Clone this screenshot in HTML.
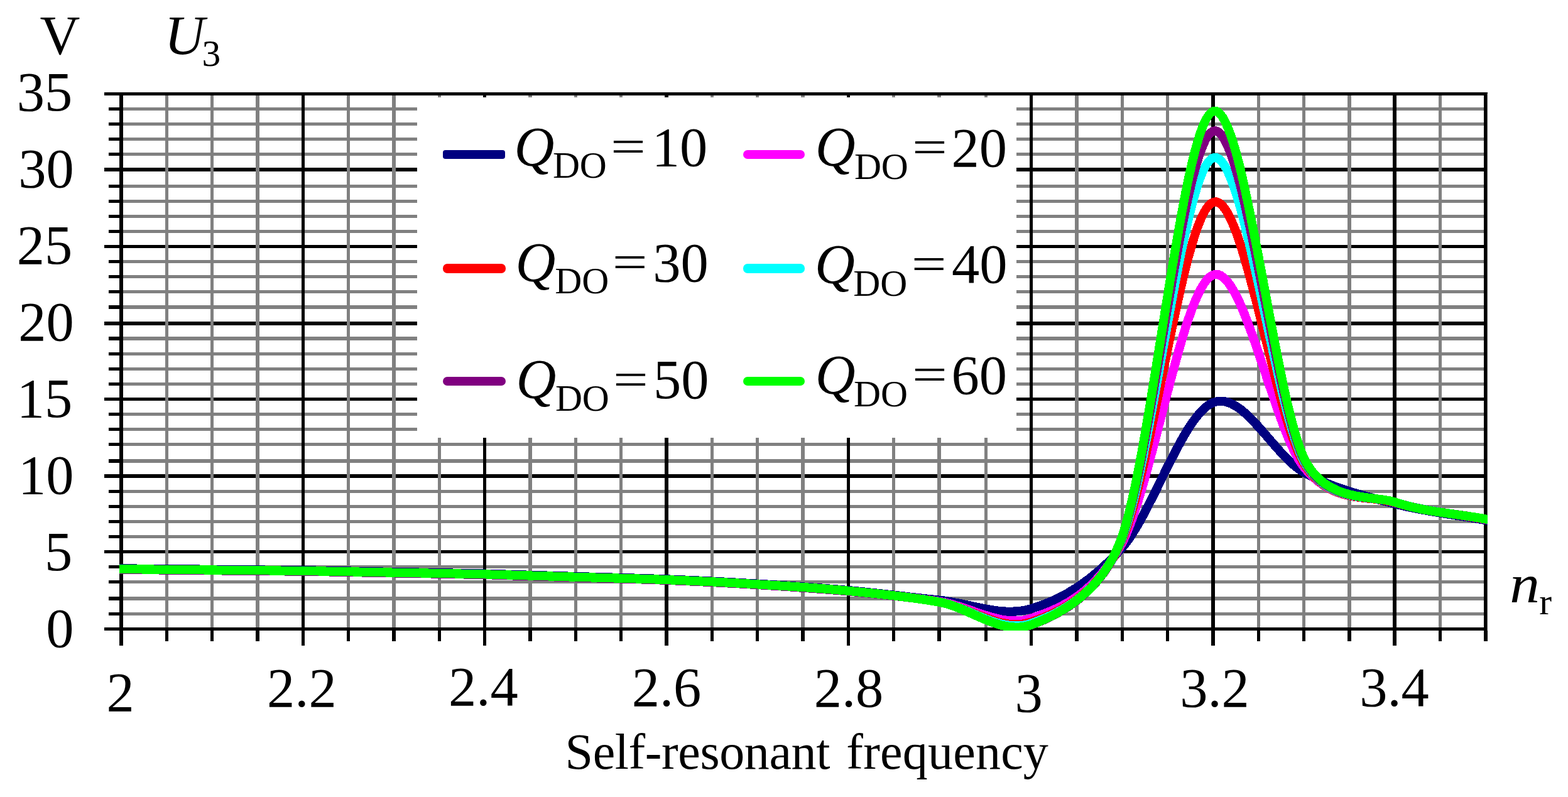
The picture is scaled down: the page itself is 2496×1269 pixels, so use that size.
<!DOCTYPE html>
<html lang="en">
<head>
<meta charset="utf-8">
<title>Self-resonant frequency chart</title>
<style>
html,body{margin:0;padding:0;background:#fff;overflow:hidden;}
body{width:2496px;height:1269px;overflow:hidden;}
svg{display:block;}
text{white-space:pre;}
</style>
</head>
<body>
<svg width="2496" height="1269" viewBox="0 0 2496 1269">
<defs><clipPath id="pc"><rect x="190" y="147" width="2178" height="857"/></clipPath></defs>
<rect width="2496" height="1269" fill="#fff"/>
<g id="grid-and-axes" shape-rendering="crispEdges">
<g fill="#808080">
<rect x="196" y="975" width="2166" height="5"/>
<rect x="196" y="950" width="2166" height="6"/>
<rect x="196" y="924" width="2166" height="5"/>
<rect x="196" y="900" width="2166" height="5"/>
<rect x="196" y="852" width="2166" height="5"/>
<rect x="196" y="828" width="2166" height="5"/>
<rect x="196" y="804" width="2166" height="5"/>
<rect x="196" y="780" width="2166" height="5"/>
<rect x="196" y="731" width="2166" height="6"/>
<rect x="196" y="705" width="2166" height="5"/>
<rect x="196" y="681" width="2166" height="5"/>
<rect x="196" y="657" width="2166" height="5"/>
<rect x="196" y="609" width="2166" height="5"/>
<rect x="196" y="585" width="2166" height="5"/>
<rect x="196" y="561" width="2166" height="5"/>
<rect x="196" y="536" width="2166" height="6"/>
<rect x="196" y="486" width="2166" height="6"/>
<rect x="196" y="462" width="2166" height="5"/>
<rect x="196" y="438" width="2166" height="5"/>
<rect x="196" y="414" width="2166" height="5"/>
<rect x="196" y="366" width="2166" height="5"/>
<rect x="196" y="342" width="2166" height="5"/>
<rect x="196" y="318" width="2166" height="5"/>
<rect x="196" y="294" width="2166" height="5"/>
<rect x="196" y="243" width="2166" height="5"/>
<rect x="196" y="219" width="2166" height="5"/>
<rect x="196" y="195" width="2166" height="5"/>
<rect x="196" y="171" width="2166" height="5"/>
</g><g fill="#000">
<rect x="196" y="876" width="2166" height="5"/>
<rect x="196" y="755" width="2166" height="6"/>
<rect x="196" y="633" width="2166" height="5"/>
<rect x="196" y="512" width="2166" height="6"/>
<rect x="196" y="390" width="2166" height="5"/>
<rect x="196" y="267" width="2166" height="6"/>
</g><g fill="#808080">
<rect x="263" y="152" width="5" height="847"/>
<rect x="335" y="152" width="5" height="847"/>
<rect x="407" y="152" width="6" height="847"/>
<rect x="552" y="152" width="5" height="847"/>
<rect x="624" y="152" width="6" height="847"/>
<rect x="697" y="152" width="5" height="847"/>
<rect x="841" y="152" width="6" height="847"/>
<rect x="914" y="152" width="5" height="847"/>
<rect x="986" y="152" width="5" height="847"/>
<rect x="1131" y="152" width="5" height="847"/>
<rect x="1203" y="152" width="5" height="847"/>
<rect x="1275" y="152" width="6" height="847"/>
<rect x="1420" y="152" width="5" height="847"/>
<rect x="1492" y="152" width="6" height="847"/>
<rect x="1567" y="152" width="5" height="847"/>
<rect x="1711" y="152" width="6" height="847"/>
<rect x="1784" y="152" width="5" height="847"/>
<rect x="1856" y="152" width="5" height="847"/>
<rect x="2001" y="152" width="5" height="847"/>
<rect x="2073" y="152" width="5" height="847"/>
<rect x="2145" y="152" width="6" height="847"/>
<rect x="2290" y="152" width="5" height="847"/>
</g><g fill="#000">
<rect x="480" y="152" width="5" height="847"/>
<rect x="769" y="152" width="5" height="847"/>
<rect x="1058" y="152" width="6" height="847"/>
<rect x="1348" y="152" width="5" height="847"/>
<rect x="1639" y="152" width="5" height="847"/>
<rect x="1928" y="152" width="6" height="847"/>
<rect x="2217" y="152" width="6" height="847"/>
</g>
<rect x="664" y="155" width="954" height="542" fill="#fff"/>
<g fill="#000">
<rect x="166" y="147" width="2202" height="5"/>
<rect x="166" y="999" width="2202" height="5"/>
<rect x="190" y="147" width="6" height="881"/>
<rect x="2362" y="147" width="5" height="857"/>
<rect x="2367" y="149" width="1" height="855" fill="#555"/>
<rect x="2362" y="1004" width="6" height="17"/>
<rect x="173" y="975" width="17" height="5"/>
<rect x="173" y="950" width="17" height="6"/>
<rect x="173" y="924" width="17" height="5"/>
<rect x="173" y="900" width="17" height="5"/>
<rect x="166" y="876" width="24" height="5"/>
<rect x="173" y="852" width="17" height="5"/>
<rect x="173" y="828" width="17" height="5"/>
<rect x="173" y="804" width="17" height="5"/>
<rect x="173" y="780" width="17" height="5"/>
<rect x="166" y="755" width="24" height="6"/>
<rect x="173" y="731" width="17" height="6"/>
<rect x="173" y="705" width="17" height="5"/>
<rect x="173" y="681" width="17" height="5"/>
<rect x="173" y="657" width="17" height="5"/>
<rect x="166" y="633" width="24" height="5"/>
<rect x="173" y="609" width="17" height="5"/>
<rect x="173" y="585" width="17" height="5"/>
<rect x="173" y="561" width="17" height="5"/>
<rect x="173" y="536" width="17" height="6"/>
<rect x="166" y="512" width="24" height="6"/>
<rect x="173" y="486" width="17" height="6"/>
<rect x="173" y="462" width="17" height="5"/>
<rect x="173" y="438" width="17" height="5"/>
<rect x="173" y="414" width="17" height="5"/>
<rect x="166" y="390" width="24" height="5"/>
<rect x="173" y="366" width="17" height="5"/>
<rect x="173" y="342" width="17" height="5"/>
<rect x="173" y="318" width="17" height="5"/>
<rect x="173" y="294" width="17" height="5"/>
<rect x="166" y="267" width="24" height="6"/>
<rect x="173" y="243" width="17" height="5"/>
<rect x="173" y="219" width="17" height="5"/>
<rect x="173" y="195" width="17" height="5"/>
<rect x="173" y="171" width="17" height="5"/>
<rect x="263" y="1004" width="5" height="17"/>
<rect x="335" y="1004" width="5" height="17"/>
<rect x="407" y="1004" width="6" height="17"/>
<rect x="480" y="1004" width="5" height="24"/>
<rect x="552" y="1004" width="5" height="17"/>
<rect x="624" y="1004" width="6" height="17"/>
<rect x="697" y="1004" width="5" height="17"/>
<rect x="769" y="1004" width="5" height="24"/>
<rect x="841" y="1004" width="6" height="17"/>
<rect x="914" y="1004" width="5" height="17"/>
<rect x="986" y="1004" width="5" height="17"/>
<rect x="1058" y="1004" width="6" height="24"/>
<rect x="1131" y="1004" width="5" height="17"/>
<rect x="1203" y="1004" width="5" height="17"/>
<rect x="1275" y="1004" width="6" height="17"/>
<rect x="1348" y="1004" width="5" height="24"/>
<rect x="1420" y="1004" width="5" height="17"/>
<rect x="1492" y="1004" width="6" height="17"/>
<rect x="1567" y="1004" width="5" height="17"/>
<rect x="1639" y="1004" width="5" height="24"/>
<rect x="1711" y="1004" width="6" height="17"/>
<rect x="1784" y="1004" width="5" height="17"/>
<rect x="1856" y="1004" width="5" height="17"/>
<rect x="1928" y="1004" width="6" height="24"/>
<rect x="2001" y="1004" width="5" height="17"/>
<rect x="2073" y="1004" width="5" height="17"/>
<rect x="2145" y="1004" width="6" height="17"/>
<rect x="2217" y="1004" width="6" height="24"/>
<rect x="2290" y="1004" width="5" height="17"/>
</g>
</g>
<g id="curves" clip-path="url(#pc)" fill="none" stroke-width="14.2" stroke-linejoin="round" stroke-linecap="butt" shape-rendering="crispEdges">
<path d="M173.00,905.28 L193.00,905.35C241.27,905.83 289.53,906.32 337.80,906.81C386.07,907.29 434.33,907.58 482.60,908.27C530.87,908.96 579.13,910.05 627.40,910.94C675.67,911.84 723.93,912.45 772.20,913.62C820.47,914.80 868.73,916.54 917.00,918.00C965.27,919.46 1013.53,920.44 1061.80,922.39C1110.07,924.33 1158.33,926.73 1206.60,929.69C1254.87,932.65 1303.13,935.81 1351.40,940.16C1399.67,944.50 1447.93,950.87 1496.20,955.74C1544.47,960.60 1592.73,983.24 1641.00,969.37C1689.27,955.49 1737.53,927.17 1785.80,872.48C1834.07,817.79 1882.33,661.31 1930.60,641.22C1978.87,621.14 2027.13,725.17 2075.40,751.98C2123.67,778.80 2171.93,789.43 2220.20,802.13C2268.47,814.83 2316.73,819.50 2365.00,828.18L2385.00,831.78" stroke="#000080"/>
<path d="M173.00,906.01 L193.00,906.08C241.27,906.56 289.53,907.05 337.80,907.54C386.07,908.02 434.33,908.31 482.60,909.00C530.87,909.69 579.13,910.78 627.40,911.67C675.67,912.57 723.93,913.18 772.20,914.35C820.47,915.53 868.73,917.27 917.00,918.73C965.27,920.19 1013.53,921.17 1061.80,923.12C1110.07,925.06 1158.33,927.46 1206.60,930.42C1254.87,933.38 1303.13,936.30 1351.40,940.89C1399.67,945.47 1447.93,950.62 1496.20,957.93C1544.47,965.23 1592.73,1000.16 1641.00,984.70C1684.94,970.63 1741.86,948.14 1785.80,865.18C1834.07,774.06 1882.33,458.25 1930.60,437.96C1978.87,417.67 2027.13,683.09 2075.40,743.46C2123.67,803.83 2171.93,786.27 2220.20,800.18C2268.47,814.10 2316.73,818.03 2365.00,826.96L2385.00,830.66" stroke="#ff00ff"/>
<path d="M173.00,906.50 L193.00,906.56C241.27,907.05 289.53,907.54 337.80,908.02C386.07,908.51 434.33,908.79 482.60,909.48C530.87,910.17 579.13,911.27 627.40,912.16C675.67,913.05 723.93,913.66 772.20,914.84C820.47,916.02 868.73,917.76 917.00,919.22C965.27,920.68 1013.53,921.65 1061.80,923.60C1110.07,925.55 1158.33,927.94 1206.60,930.91C1254.87,933.87 1303.13,936.79 1351.40,941.37C1399.67,945.96 1447.93,950.22 1496.20,958.41C1544.47,966.61 1592.73,1006.69 1641.00,990.55C1679.56,977.65 1747.24,950.50 1785.80,861.53C1834.07,750.16 1882.33,343.02 1930.60,322.33C1978.87,301.64 2027.13,657.78 2075.40,737.38C2116.29,804.82 2179.31,787.33 2220.20,799.94C2268.47,814.83 2316.73,817.79 2365.00,826.72L2385.00,830.42" stroke="#ff0000"/>
<path d="M173.00,906.01 L193.00,906.08C241.27,906.56 289.53,907.05 337.80,907.54C386.07,908.02 434.33,908.31 482.60,909.00C530.87,909.69 579.13,910.78 627.40,911.67C675.67,912.57 723.93,913.18 772.20,914.35C820.47,915.53 868.73,917.27 917.00,918.73C965.27,920.19 1013.53,921.17 1061.80,923.12C1110.07,925.06 1158.33,927.46 1206.60,930.42C1254.87,933.38 1303.13,936.18 1351.40,940.89C1399.67,945.59 1447.93,950.01 1496.20,958.66C1544.47,967.30 1592.73,1009.33 1641.00,992.74C1676.86,980.41 1749.94,950.86 1785.80,859.09C1834.07,735.59 1882.33,272.63 1930.60,251.74C1978.87,230.84 2027.13,642.44 2075.40,733.73C2112.56,804.02 2183.04,787.55 2220.20,799.45C2268.47,814.91 2316.73,817.47 2365.00,826.47L2385.00,830.21" stroke="#00ffff"/>
<path d="M173.00,906.74 L193.00,906.81C241.27,907.29 289.53,907.78 337.80,908.27C386.07,908.75 434.33,909.04 482.60,909.73C530.87,910.42 579.13,911.51 627.40,912.40C675.67,913.30 723.93,913.91 772.20,915.08C820.47,916.26 868.73,918.00 917.00,919.46C965.27,920.92 1013.53,921.90 1061.80,923.85C1110.07,925.79 1158.33,928.19 1206.60,931.15C1254.87,934.11 1303.13,937.01 1351.40,941.62C1399.67,946.22 1447.93,949.85 1496.20,958.78C1544.47,967.70 1592.73,1012.11 1641.00,995.17C1675.58,983.04 1751.22,951.00 1785.80,857.15C1834.07,726.14 1882.33,230.11 1930.60,209.14C1978.87,188.16 2027.13,632.91 2075.40,731.29C2110.64,803.13 2184.96,787.87 2220.20,799.45C2268.47,815.32 2316.73,817.47 2365.00,826.47L2385.00,830.21" stroke="#800080"/>
<path d="M173.00,906.01 L193.00,906.08C241.27,906.56 289.53,907.05 337.80,907.54C386.07,908.02 434.33,908.31 482.60,909.00C530.87,909.69 579.13,910.78 627.40,911.67C675.67,912.57 723.93,913.18 772.20,914.35C820.47,915.53 868.73,917.27 917.00,918.73C965.27,920.19 1013.53,921.17 1061.80,923.12C1110.07,925.06 1158.33,927.46 1206.60,930.42C1254.87,933.38 1303.13,936.14 1351.40,940.89C1399.67,945.63 1447.93,949.89 1496.20,958.90C1544.47,967.91 1592.73,1012.17 1641.00,994.93C1674.57,982.93 1752.23,950.20 1785.80,855.44C1834.07,719.20 1882.33,198.59 1930.60,177.49C1978.87,156.39 2027.13,625.20 2075.40,728.86C2109.40,801.88 2186.20,787.99 2220.20,799.45C2268.47,815.72 2316.73,817.47 2365.00,826.47L2385.00,830.21" stroke="#00ff00"/>
</g>
<g id="legend-samples">
<rect x="705" y="239" width="99" height="14" rx="4" fill="#000080"/>
<rect x="1183" y="239" width="98" height="14" rx="7" fill="#ff00ff"/>
<rect x="705" y="420" width="100" height="15" rx="7" fill="#ff0000"/>
<rect x="1183" y="420" width="98" height="15" rx="7" fill="#00ffff"/>
<rect x="705" y="600" width="100" height="14" rx="7" fill="#800080"/>
<rect x="1183" y="600" width="98" height="14" rx="7" fill="#00ff00"/>
</g>
<g id="labels" font-family="'Liberation Serif', 'Times New Roman', serif" fill="#000">
<text x="73.3" y="1030" font-size="88.5" id="yt0">0</text>
<text x="70.9" y="908" font-size="88.5" id="yt5">5</text>
<text x="29.1" y="786" font-size="88.5" id="yt10">10</text>
<text x="26.7" y="664" font-size="88.5" id="yt15">15</text>
<text x="29.2" y="542" font-size="88.5" id="yt20">20</text>
<text x="26.8" y="420" font-size="88.5" id="yt25">25</text>
<text x="29.25" y="298" font-size="88.5" id="yt30">30</text>
<text x="26.85" y="175.7" font-size="88.5" id="yt35">35</text>
<text x="169.4" y="1132.3" font-size="88.5" id="xt0">2</text>
<text x="425.1" y="1124.9" font-size="88.5" id="xt1">2.2</text>
<text x="714.05" y="1123.3" font-size="88.5" id="xt2">2.4</text>
<text x="1005.7" y="1124.3" font-size="88.5" id="xt3">2.6</text>
<text x="1295.7" y="1125" font-size="88.5" id="xt4">2.8</text>
<text x="1615.6" y="1133" font-size="88.5" id="xt5">3</text>
<text x="1878.2" y="1125" font-size="88.5" id="xt6">3.2</text>
<text x="2164.2" y="1124.3" font-size="88.5" id="xt7">3.4</text>
<text x="63.5" y="85.8" font-size="88.5" id="V">V</text>
<text x="261.8" y="85.8" font-size="88.5" font-style="italic" id="U">U</text>
<text x="321.5" y="105.4" font-size="59.5" id="U3">3</text>
<text x="0" y="0" transform="translate(2403.3 959.4) scale(1.08 0.97)" font-size="88.5" font-style="italic" id="n">n</text>
<text x="2450.3" y="978.3" font-size="59.5" id="nr">r</text>
<text y="1224.2" font-size="80" id="title"><tspan x="899.55" letter-spacing="-0.39">Self-resonant</tspan> <tspan x="1347.3" letter-spacing="0.22">frequency</tspan></text>
<text x="818.4" y="262.5" font-size="88.5" font-style="italic" id="Q00">Q</text>
<text x="879.9" y="282.7" font-size="59.5" id="DO00">DO</text>
<text x="0" y="0" transform="translate(971.9 259.1) scale(1.12 0.87)" font-size="88.5" id="eq00">=</text>
<text x="1037.7" y="264" font-size="88.5" id="v00">10</text>
<text x="1297.8" y="263.4" font-size="88.5" font-style="italic" id="Q01">Q</text>
<text x="1359.9" y="285.0" font-size="59.5" id="DO01">DO</text>
<text x="0" y="0" transform="translate(1451.9 259.7) scale(1.12 0.87)" font-size="88.5" id="eq01">=</text>
<text x="1514.5" y="265" font-size="88.5" id="v01">20</text>
<text x="820.5" y="446.8" font-size="88.5" font-style="italic" id="Q10">Q</text>
<text x="883.3" y="467.4" font-size="59.5" id="DO10">DO</text>
<text x="0" y="0" transform="translate(974.7 443.4) scale(1.12 0.87)" font-size="88.5" id="eq10">=</text>
<text x="1039.3" y="448.3" font-size="88.5" id="v10">30</text>
<text x="1297.1" y="449.7" font-size="88.5" font-style="italic" id="Q11">Q</text>
<text x="1358.3" y="471.2" font-size="59.5" id="DO11">DO</text>
<text x="0" y="0" transform="translate(1450.7 446.1) scale(1.12 0.87)" font-size="88.5" id="eq11">=</text>
<text x="1514.9" y="450.2" font-size="88.5" id="v11">40</text>
<text x="821.6" y="632.7" font-size="88.5" font-style="italic" id="Q20">Q</text>
<text x="883.9" y="653.8" font-size="59.5" id="DO20">DO</text>
<text x="0" y="0" transform="translate(976.1 629.5) scale(1.12 0.87)" font-size="88.5" id="eq20">=</text>
<text x="1039.9" y="633.7" font-size="88.5" id="v20">50</text>
<text x="1297.7" y="626.2" font-size="88.5" font-style="italic" id="Q21">Q</text>
<text x="1359.1" y="647.2" font-size="59.5" id="DO21">DO</text>
<text x="0" y="0" transform="translate(1452.0 622.3) scale(1.12 0.87)" font-size="88.5" id="eq21">=</text>
<text x="1514.4" y="627.1" font-size="88.5" id="v21">60</text>
</g>
</svg>
</body>
</html>
